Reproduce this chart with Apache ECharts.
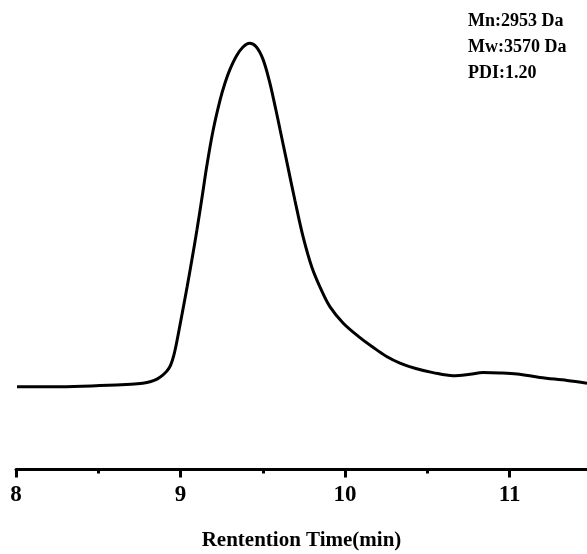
<!DOCTYPE html>
<html>
<head>
<meta charset="utf-8">
<script src="https://cdn.jsdelivr.net/npm/echarts@6/dist/echarts.min.js"></script>
<style>
  html, body { margin: 0; padding: 0; background: #ffffff; }
  #chart { width: 587px; height: 554px; }
</style>
</head>
<body>
<div id="chart"></div>
<script>
// Retention time (min)
const retentionTime = [
  8.006, 8.27, 8.51, 8.70, 8.77, 8.82, 8.857, 8.89, 8.918, 8.940,
  8.960, 8.979, 9.009, 9.040, 9.070, 9.100, 9.131, 9.161, 9.198, 9.240,
  9.270, 9.300, 9.340, 9.380, 9.420, 9.460, 9.500, 9.540, 9.580, 9.605,
  9.647, 9.696, 9.745, 9.799, 9.860, 9.909, 9.988, 10.091, 10.170, 10.250,
  10.334, 10.430, 10.535, 10.657, 10.760, 10.839, 10.942, 11.046, 11.185, 11.350,
  11.471
];
// Detector response (relative intensity, peak = 100)
const signal = [
  -0.3, -0.3, 0.0, 0.4, 0.7, 1.2, 1.9, 3.0, 4.3, 6.0,
  9.0, 13.2, 20.8, 28.8, 37.0, 45.5, 55.0, 64.5, 74.5, 83.3,
  88.3, 92.3, 96.3, 98.9, 100.0, 99.0, 95.5, 89.0, 80.5, 74.8,
  65.2, 54.0, 43.5, 34.5, 27.5, 23.0, 18.3, 14.0, 11.2, 8.6,
  6.6, 5.0, 3.8, 2.9, 3.3, 3.8, 3.7, 3.4, 2.4, 1.5,
  0.7
];
const majorTicks = [8, 9, 10, 11];
const minorTicks = [8.5, 9.5, 10.5];
const xMin = 8;
const xMax = 11.471;
const statsLines = ['Mn:2953 Da', 'Mw:3570 Da', 'PDI:1.20'];
const xTitle = 'Rentention Time(min)';

const seriesData = retentionTime.map((t, i) => [t, signal[i]]);
const font = '"Liberation Serif", "Times New Roman", serif';

const chart = echarts.init(document.getElementById('chart'));
chart.setOption({
  animation: false,
  backgroundColor: '#ffffff',
  grid: { left: 16, right: 0, top: 9, bottom: 84.5, containLabel: false },
  xAxis: [
    {
      type: 'value', min: xMin, max: xMax, position: 'bottom',
      axisLine: { show: true, onZero: false, lineStyle: { color: '#000', width: 3 } },
      axisTick: { show: true, length: 8, customValues: majorTicks, lineStyle: { color: '#000', width: 3 } },
      axisLabel: {
        show: true, margin: 14, color: '#000', fontFamily: font, fontWeight: 'bold', fontSize: 23,
        customValues: majorTicks
      },
      splitLine: { show: false }
    },
    {
      type: 'value', min: xMin, max: xMax, position: 'bottom', offset: 0,
      axisLine: { show: false, onZero: false },
      axisTick: { show: true, length: 4, customValues: minorTicks, lineStyle: { color: '#000', width: 3 } },
      axisLabel: { show: false },
      splitLine: { show: false }
    }
  ],
  yAxis: {
    type: 'value', min: -24.5, max: 110, show: false, splitLine: { show: false }
  },
  series: [{
    type: 'line', xAxisIndex: 0, data: seriesData, smooth: 0.35,
    showSymbol: false, lineStyle: { color: '#000', width: 3 }, clip: true
  }],
  graphic: [
    {
      type: 'text', left: 468, top: 8,
      style: {
        text: statsLines.join('\n'), fill: '#000', font: 'bold 18px ' + font, lineHeight: 26
      }
    },
    {
      type: 'text', x: 301.5, y: 541,
      style: {
        text: xTitle, fill: '#000', font: 'bold 21px ' + font, align: 'center', verticalAlign: 'middle'
      }
    }
  ]
});
</script>
</body>
</html>
